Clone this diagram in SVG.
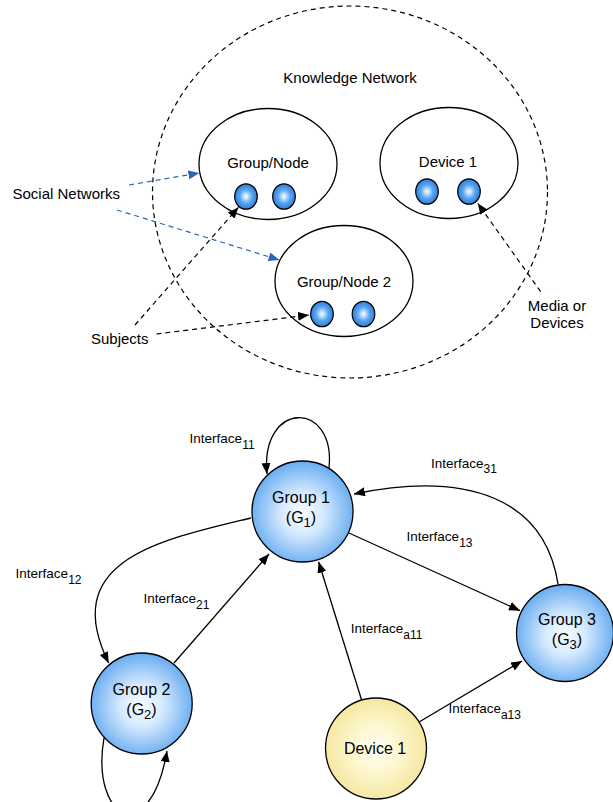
<svg xmlns="http://www.w3.org/2000/svg" width="613" height="802" viewBox="0 0 613 802">
<style>
text{font-family:"Liberation Sans",Arial,sans-serif;fill:#000}
.t15{font-size:15px}
.t16{font-size:16px}
.lbl{font-size:13.5px}
.sub{font-size:12px}
.ell{fill:#fff;stroke:#000;stroke-width:1.3}
.ball{fill:url(#ballG);stroke:#000;stroke-width:1.2}
.bnode{fill:url(#blueG);stroke:#000;stroke-width:1.3}
.ynode{fill:url(#yelG);stroke:#000;stroke-width:1.3}
.dk{fill:none;stroke:#000;stroke-width:1.2;stroke-dasharray:5,4}
.db{fill:none;stroke:#2f63b5;stroke-width:1.2;stroke-dasharray:5,4}
.ln{fill:none;stroke:#000;stroke-width:1.3}
</style>
<defs>
<radialGradient id="ballG" cx="0.5" cy="0.5" r="0.5">
<stop offset="0" stop-color="#ffffff"/>
<stop offset="0.55" stop-color="#58a6f0"/>
<stop offset="1" stop-color="#2f7ddc"/>
</radialGradient>
<radialGradient id="blueG" cx="0.5" cy="0.52" r="0.52">
<stop offset="0" stop-color="#f8fcff"/>
<stop offset="0.4" stop-color="#d6eafe"/>
<stop offset="1" stop-color="#68acf1"/>
</radialGradient>
<radialGradient id="yelG" cx="0.5" cy="0.5" r="0.52">
<stop offset="0" stop-color="#fffef6"/>
<stop offset="0.45" stop-color="#fdf7cf"/>
<stop offset="1" stop-color="#f4e79e"/>
</radialGradient>
<marker id="ak" markerUnits="userSpaceOnUse" markerWidth="12" markerHeight="9" refX="11" refY="4.5" orient="auto">
<path d="M0,0 L11,4.5 L0,9 z" fill="#000"/>
</marker>
<marker id="ab" markerUnits="userSpaceOnUse" markerWidth="12" markerHeight="9" refX="11" refY="4.5" orient="auto">
<path d="M0,0 L11,4.5 L0,9 z" fill="#2f63b5"/>
</marker>
</defs>

<g id="knowledge-network">
<ellipse cx="350" cy="192" rx="197.5" ry="186" fill="none" stroke="#000" stroke-width="1.2" stroke-dasharray="5,4"/>
<text class="t15" x="350" y="83" text-anchor="middle">Knowledge Network</text>
</g>
<g id="group-node">
<ellipse class="ell" cx="268" cy="164" rx="69" ry="55.5"/>
<text class="t15" x="268" y="168" text-anchor="middle">Group/Node</text>
<ellipse class="ball" cx="246" cy="196.5" rx="11.3" ry="12.7"/>
<ellipse class="ball" cx="284" cy="196.5" rx="11.3" ry="12.7"/>
</g>
<g id="device-top">
<ellipse class="ell" cx="449" cy="163" rx="69" ry="55.5"/>
<text class="t15" x="448" y="167" text-anchor="middle">Device 1</text>
<ellipse class="ball" cx="427" cy="191.5" rx="11.3" ry="12.7"/>
<ellipse class="ball" cx="469" cy="191.5" rx="11.3" ry="12.7"/>
</g>
<g id="group-node-2">
<ellipse class="ell" cx="344" cy="281" rx="69" ry="55.5"/>
<text class="t15" x="344" y="287" text-anchor="middle">Group/Node 2</text>
<ellipse class="ball" cx="322" cy="314" rx="11.3" ry="12.7"/>
<ellipse class="ball" cx="363.5" cy="314" rx="11.3" ry="12.7"/>
</g>
<g id="labels-top">
<text class="t15" x="12.5" y="199">Social Networks</text>
<text class="t15" x="91" y="344">Subjects</text>
<text class="t15" x="557" y="311" text-anchor="middle">Media or</text>
<text class="t15" x="557" y="328" text-anchor="middle">Devices</text>
</g>

<g id="connectors">
<line class="db" x1="129" y1="185" x2="199.4" y2="173" marker-end="url(#ab)"/>
<line class="db" x1="117" y1="210" x2="279.5" y2="260" marker-end="url(#ab)"/>
<line class="dk" x1="135" y1="325" x2="238.5" y2="207.3" marker-end="url(#ak)"/>
<line class="dk" x1="156.4" y1="334" x2="309" y2="315" marker-end="url(#ak)"/>
<line class="dk" x1="540.7" y1="291.7" x2="477.7" y2="203.3" marker-end="url(#ak)"/>

<path class="ln" d="M329,468 C336,400 260,400 267,474" marker-end="url(#ak)"/>
<path class="ln" d="M558,584 C545,500 470,470 354,494" marker-end="url(#ak)"/>
<line class="ln" x1="349" y1="533" x2="520" y2="610.7" marker-end="url(#ak)"/>
<path class="ln" d="M251,518 C160,540 58,560 108.7,663" marker-end="url(#ak)"/>
<line class="ln" x1="174" y1="663" x2="269" y2="554" marker-end="url(#ak)"/>
<line class="ln" x1="361.6" y1="700" x2="318.6" y2="561.7" marker-end="url(#ak)"/>
<line class="ln" x1="419.5" y1="721.7" x2="522" y2="661" marker-end="url(#ak)"/>
<path class="ln" d="M104,738 C90,820 150,850 167,751" marker-end="url(#ak)"/>

<text class="lbl" x="189.6" y="443">Interface<tspan class="sub" dy="6">11</tspan></text>
<text class="lbl" x="431" y="467.7">Interface<tspan class="sub" dy="5">31</tspan></text>
<text class="lbl" x="406.6" y="541">Interface<tspan class="sub" dy="6">13</tspan></text>
<text class="lbl" x="15.6" y="578">Interface<tspan class="sub" dy="6">12</tspan></text>
<text class="lbl" x="143.5" y="602.7">Interface<tspan class="sub" dy="6">21</tspan></text>
<text class="lbl" x="350.7" y="633">Interface<tspan class="sub" dy="6">a11</tspan></text>
<text class="lbl" x="448.4" y="713.3">Interface<tspan class="sub" dy="6">a13</tspan></text>
</g>

<g id="group1">
<circle class="bnode" cx="302.5" cy="511.5" r="50.5"/>
<text class="t16" x="301" y="503" text-anchor="middle">Group 1</text>
<text class="t16" x="301" y="523" text-anchor="middle">(G<tspan font-size="13" dy="4">1</tspan><tspan dy="-4">)</tspan></text>
</g>
<g id="group2">
<circle class="bnode" cx="141.7" cy="703.5" r="50.5"/>
<text class="t16" x="141.5" y="695" text-anchor="middle">Group 2</text>
<text class="t16" x="141.5" y="715" text-anchor="middle">(G<tspan font-size="13" dy="4">2</tspan><tspan dy="-4">)</tspan></text>
</g>
<g id="group3">
<circle class="bnode" cx="565" cy="633" r="48.5"/>
<text class="t16" x="567" y="625" text-anchor="middle">Group 3</text>
<text class="t16" x="567" y="645" text-anchor="middle">(G<tspan font-size="13" dy="4">3</tspan><tspan dy="-4">)</tspan></text>
</g>
<g id="device1">
<circle class="ynode" cx="376" cy="748.5" r="50.5"/>
<text class="t16" x="375" y="754" text-anchor="middle">Device 1</text>
</g>
</svg>
